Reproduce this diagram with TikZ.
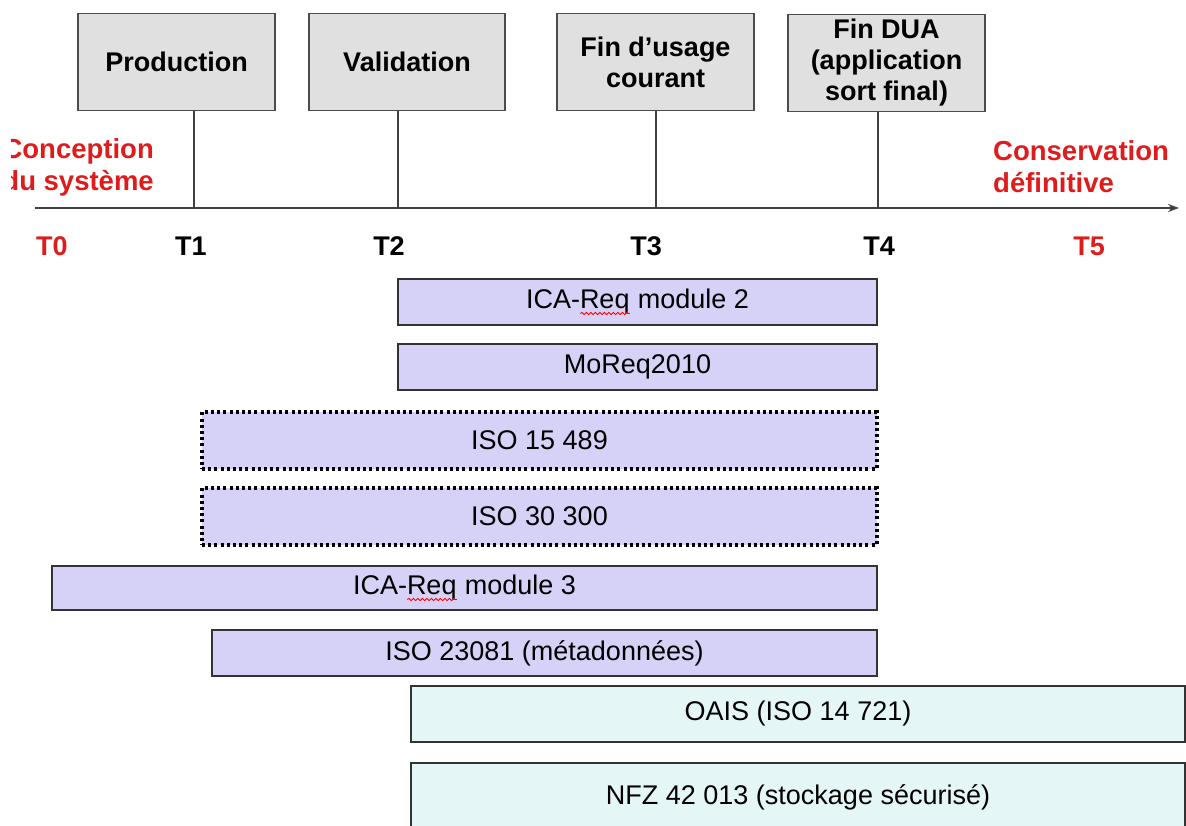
\documentclass[tikz,border=0pt]{standalone}
\usepackage{fontspec}
\setmainfont{Liberation Sans}
\usetikzlibrary{arrows.meta,decorations.pathmorphing}

\definecolor{boxgray}{RGB}{224,224,224}
\definecolor{lavender}{RGB}{214,209,246}
\definecolor{paleaqua}{RGB}{228,246,246}
\definecolor{milestone}{RGB}{222,28,28}

% red wavy underline (spell-check mark) under a word
\newlength\spellw
\newcommand\spellmark[1]{\settowidth\spellw{#1}\rlap{#1}\tikz[baseline=0pt]\draw[red, line width=0.9pt,
  decorate, decoration={snake, amplitude=1.1pt, segment length=4.5pt}] (0pt,-5pt) -- (\spellw,-5pt);}

\begin{document}
\begin{tikzpicture}[x=1pt,y=-1pt,
  event/.style={draw=black!70, line width=1.3pt, fill=boxgray, align=center,
    inner sep=0pt, font=\fontsize{27}{31}\selectfont\bfseries},
  tick/.style={draw=black!75, line width=1.2pt},
  tlabel/.style={font=\fontsize{27}{31}\selectfont\bfseries, inner sep=0pt},
  redlabel/.style={text=milestone, font=\fontsize{27.5}{32}\selectfont\bfseries, inner sep=0pt},
  bar/.style={draw=black!80, line width=1.5pt, fill=lavender, inner sep=0pt,
    font=\fontsize{27}{31}\selectfont},
  dotbar/.style={bar, draw=black, line width=3.2pt, dash pattern=on 3pt off 3.2pt},
  archbar/.style={bar, fill=paleaqua}
]
\useasboundingbox (0,0) rectangle (1186,825);
\begin{scope}
\clip (11,0) rectangle (1186,825);

% milestone boxes
\node[event, minimum width=197, minimum height=97] (prod) at (176.5,62) {Production};
\node[event, minimum width=196, minimum height=97] (valid) at (407,62) {Validation};
\node[event, minimum width=197, minimum height=97] (fincour) at (655.5,62) {Fin d’usage\\courant};
\node[event, minimum width=197, minimum height=97] (findua) at (886.5,63) {Fin DUA\\(application\\sort final)};

% time axis
\coordinate (axstart) at (35,208);
\coordinate (axend) at (1179,208);
\draw[line width=1.3pt, draw=black!75, -{Stealth[length=11pt,width=8pt]}] (axstart) -- (axend);

\coordinate (t1) at (194,208);
\coordinate (t2) at (398,208);
\coordinate (t3) at (656,208);
\coordinate (t4) at (878,208);
\draw[tick] (prod.south -| t1) -- (t1);
\draw[tick] (valid.south -| t2) -- (t2);
\draw[tick] (fincour.south -| t3) -- (t3);
\draw[tick] (findua.south -| t4) -- (t4);

% end labels
\node[redlabel, align=right, anchor=east] (start) at (154,167) {Conception\\du système};
\node[redlabel, align=left, anchor=west] (final) at (993,167) {Conservation\\définitive};

% time marks
\node[tlabel, text=milestone] (T0) at (52,246) {T0};
\node[tlabel] (T1) at (191,246) {T1};
\node[tlabel] (T2) at (389,246) {T2};
\node[tlabel] (T3) at (646,246) {T3};
\node[tlabel] (T4) at (879,246) {T4};
\node[tlabel, text=milestone] (T5) at (1089,246) {T5};

% standards and their coverage
\node[bar, minimum width=479, minimum height=46] (icam2) at (637.5,302) {ICA-\spellmark{Req} module 2};
\node[bar, minimum width=479, minimum height=46] (moreq) at (637.5,367) {MoReq2010};
\node[dotbar, minimum width=675, minimum height=57] (iso15489) at (539.5,440.5) {ISO 15 489};
\node[dotbar, minimum width=675, minimum height=57] (iso30300) at (539.5,516.5) {ISO 30 300};
\node[bar, minimum width=825, minimum height=44] (icam3) at (464.5,588) {ICA-\spellmark{Req} module 3};
\node[bar, minimum width=665, minimum height=46] (iso23081) at (544.5,653) {ISO 23081 (métadonnées)};
\node[archbar, minimum width=774, minimum height=56] (oais) at (798,714) {OAIS (ISO 14 721)};
\node[archbar, minimum width=774, minimum height=68] (nfz) at (798,797) {NFZ 42 013 (stockage sécurisé)};
\end{scope}
\end{tikzpicture}
\end{document}
